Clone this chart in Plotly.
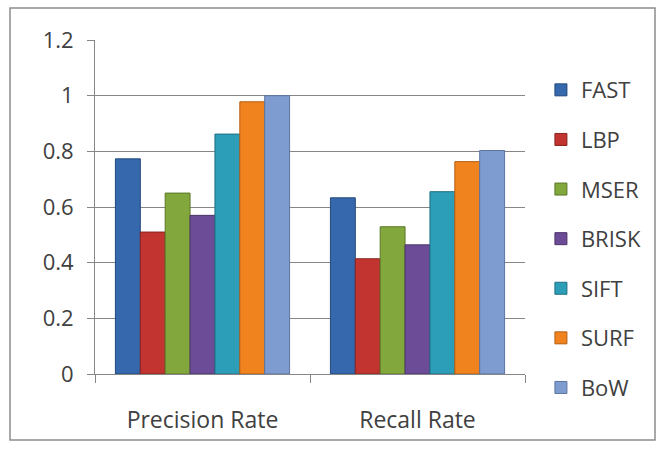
import plotly.graph_objects as go

categories = ["Precision Rate", "Recall Rate"]
methods = ["FAST", "LBP", "MSER", "BRISK", "SIFT", "SURF", "BoW"]
fast = [0.773, 0.633]
lbp = [0.51, 0.414]
mser = [0.65, 0.529]
brisk = [0.57, 0.464]
sift = [0.862, 0.655]
surf = [0.978, 0.763]
bow = [1.0, 0.803]
series = [fast, lbp, mser, brisk, sift, surf, bow]
y_ticks = [0, 0.2, 0.4, 0.6, 0.8, 1, 1.2]

colors = ["#3568AD", "#C1342F", "#82A73C", "#6D4C97", "#2C9EB8", "#F0831E", "#7E9CCF"]
edges = ["#23487A", "#8A2320", "#5B7728", "#4B346A", "#1E6F82", "#B35E12", "#5C74A0"]

fig = go.Figure()
for i, (name, vals) in enumerate(zip(methods, series)):
    fig.add_trace(go.Bar(
        x=categories, y=vals, name=name, legendgroup=name,
        marker=dict(color=colors[i], line=dict(color=edges[i], width=1)),
    ))

font = "'Open Sans', sans-serif"
fig.update_layout(
    width=663, height=454,
    margin=dict(l=95, r=138, t=40, b=80, autoexpand=False),
    paper_bgcolor="white", plot_bgcolor="white",
    barmode="group", bargap=0.19, bargroupgap=0,
    font=dict(family=font, size=22, color="#404040"),
    legend=dict(x=1.037, xanchor="left", y=0.913, yanchor="top",
                font=dict(size=22, color="#404040"), maxheight=1000,
                tracegroupgap=18, itemwidth=30, traceorder="grouped"),
    xaxis=dict(showline=True, linecolor="#868686", linewidth=1, automargin=False,
               ticks="outside", tickson="boundaries", ticklen=8, tickcolor="#868686",
               tickfont=dict(size=23), ticklabelstandoff=25),
    yaxis=dict(range=[0, 1.2], tickvals=y_ticks, ticktext=["0", "0.2", "0.4", "0.6", "0.8", "1", "1.2"],
               showline=True, linecolor="#868686", linewidth=1, automargin=False,
               ticks="outside", ticklen=7, tickcolor="#868686",
               showgrid=True, gridcolor="#868686", gridwidth=1,
               zeroline=False, tickfont=dict(size=22), ticklabelstandoff=9),
    shapes=[dict(type="rect", xref="paper", yref="paper",
                 x0=-85/430, x1=560/430, y0=-66/334, y1=366/334,
                 line=dict(color="#8C8C8C", width=1.5), fillcolor="rgba(0,0,0,0)", layer="below")],
)

fig.write_html("out.html", config={"displayModeBar": False},
               post_script="document.body.style.margin='0';")
